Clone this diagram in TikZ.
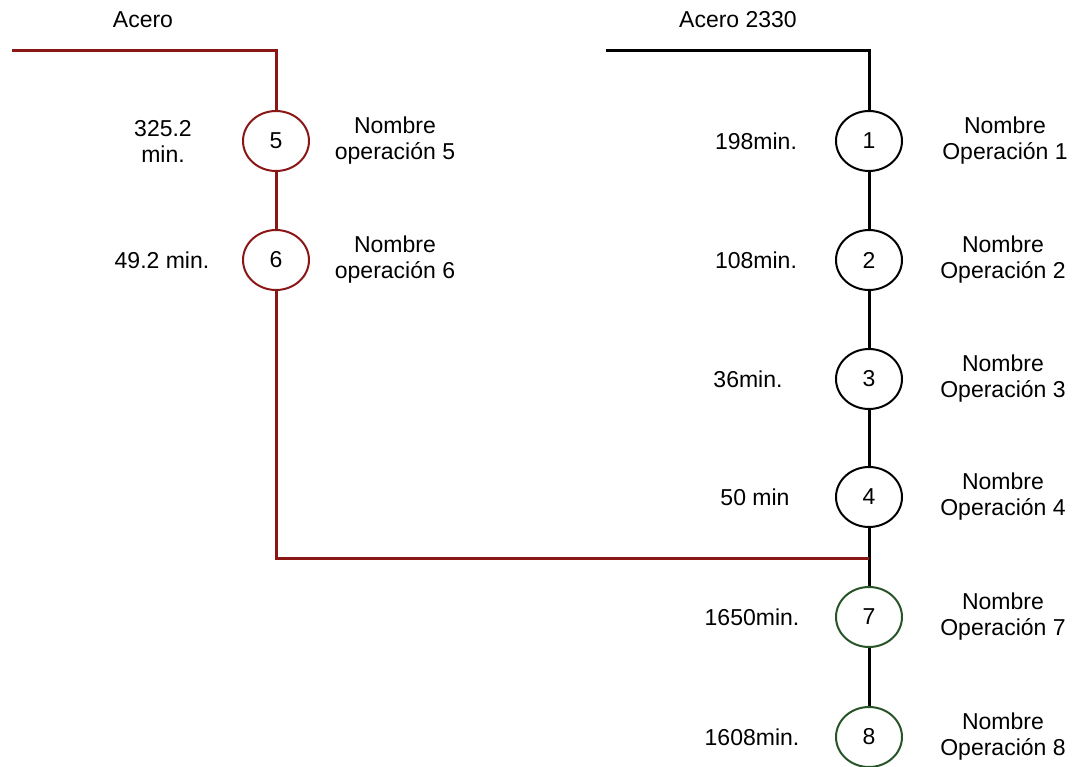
\documentclass[tikz,border=0pt]{standalone}
\usepackage{fontspec}
\setmainfont{Liberation Sans}
\definecolor{acred}{RGB}{139,22,22}
\definecolor{acgreen}{RGB}{40,85,40}
\usetikzlibrary{shapes.geometric}

\begin{document}
\begin{tikzpicture}[x=0.5pt, y=-0.5pt,
  opcirc/.style={draw, ellipse, fill=white, line width=1pt, minimum width=33pt, minimum height=30pt, inner sep=0pt, font=\fontsize{11.5}{13}\selectfont},
  lbl/.style={align=center, font=\fontsize{11.5}{13}\selectfont, inner sep=0pt},
  redline/.style={acred, line width=1.5pt},
  blkline/.style={black, line width=1.5pt}]
  \useasboundingbox (0,0) rectangle (1073,767);
  % material labels
  \node[lbl] (mA) at (143,20) {Acero};
  \node[lbl] (mB) at (738,20) {Acero 2330};
  % operations
  \node[opcirc, draw=acred] (o5) at (276,141) {5};
  \node[opcirc, draw=acred] (o6) at (276,260) {6};
  \node[opcirc] (o1) at (869,141) {1};
  \node[opcirc] (o2) at (869,260) {2};
  \node[opcirc] (o3) at (869,379) {3};
  \node[opcirc] (o4) at (869,497) {4};
  \node[opcirc, draw=acgreen] (o7) at (869,617) {7};
  \node[opcirc, draw=acgreen] (o8) at (869,737) {8};
  % times
  \node[lbl] (t5) at (163,141) {325.2\\min.};
  \node[lbl] (t6) at (162,260) {49.2 min.};
  \node[lbl] (t1) at (756,141) {198min.};
  \node[lbl] (t2) at (756,260) {108min.};
  \node[lbl] (t3) at (748,379) {36min.};
  \node[lbl] (t4) at (755,497) {50 min};
  \node[lbl] (t7) at (752,617) {1650min.};
  \node[lbl] (t8) at (752,737) {1608min.};
  % names
  \node[lbl] (n5) at (395,141) {Nombre\\operación 5};
  \node[lbl] (n6) at (395,260) {Nombre\\operación 6};
  \node[lbl] (n1) at (1005,141) {Nombre\\Operación 1};
  \node[lbl] (n2) at (1003,260) {Nombre\\Operación 2};
  \node[lbl] (n3) at (1003,379) {Nombre\\Operación 3};
  \node[lbl] (n4) at (1003,497) {Nombre\\Operación 4};
  \node[lbl] (n7) at (1003,617) {Nombre\\Operación 7};
  \node[lbl] (n8) at (1003,737) {Nombre\\Operación 8};
  % flow lines
  \coordinate (inA) at (12,50);
  \coordinate (inB) at (606,50);
  \coordinate (jn) at (869,558);
  \draw[blkline] (inB) -| (o1.north);
  \draw[blkline] (o1) -- (o2);
  \draw[blkline] (o2) -- (o3);
  \draw[blkline] (o3) -- (o4);
  \draw[blkline] (o4) -- (o7);
  \draw[blkline] (o7) -- (o8);
  \draw[redline] (inA) -| (o5.north);
  \draw[redline] (o5) -- (o6);
  \draw[redline] (o6.south) |- (jn);
\end{tikzpicture}
\end{document}
